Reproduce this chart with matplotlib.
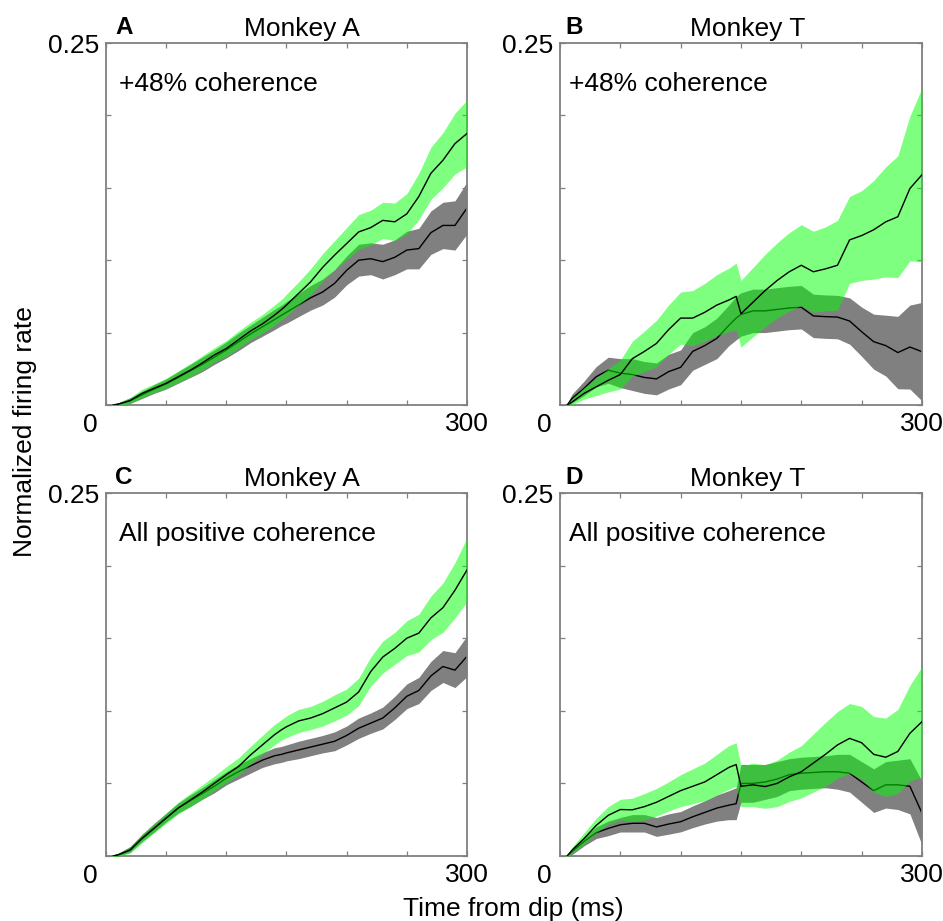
import numpy as np
import matplotlib
matplotlib.use('Agg')
import matplotlib.pyplot as plt

plt.rcParams['font.family'] = ['Liberation Sans', 'DejaVu Sans']

# time from dip (ms), shared by all four panels
t_ms = [6, 10, 20, 30, 40, 50, 60, 70, 80, 90, 100, 110, 120, 130, 140, 146,
        150, 160, 170, 180, 190, 200, 210, 220, 230, 240, 250, 260, 270, 280,
        290, 300]

# panel A - monkey A, +48% coherence
a_green_mean = [0, 0.0005, 0.003, 0.008, 0.0115, 0.015, 0.0195, 0.024, 0.029, 0.0345,
                0.039, 0.045, 0.051, 0.056, 0.062, 0.066, 0.069, 0.077, 0.085, 0.095,
                0.1035, 0.1115, 0.1195, 0.1225, 0.1275, 0.1265, 0.132, 0.144, 0.160,
                0.169, 0.1805, 0.1875]
a_green_sem = [0.0005, 0.001, 0.002, 0.003, 0.003, 0.0035, 0.004, 0.0045, 0.005, 0.005,
               0.0055, 0.006, 0.006, 0.0065, 0.007, 0.007, 0.0075, 0.008, 0.009, 0.0095,
               0.010, 0.011, 0.012, 0.012, 0.0125, 0.013, 0.014, 0.016, 0.018, 0.019,
               0.021, 0.023]
a_gray_mean = [0, 0.0005, 0.003, 0.007, 0.011, 0.0145, 0.019, 0.0235, 0.028, 0.033,
               0.038, 0.0435, 0.049, 0.054, 0.059, 0.062, 0.064, 0.069, 0.074, 0.078,
               0.084, 0.093, 0.100, 0.101, 0.099, 0.102, 0.107, 0.108, 0.119, 0.124,
               0.124, 0.136]
a_gray_sem = [0.0005, 0.001, 0.002, 0.0025, 0.003, 0.0035, 0.004, 0.0045, 0.005, 0.005,
              0.0055, 0.006, 0.006, 0.0065, 0.007, 0.007, 0.0075, 0.008, 0.0085, 0.009,
              0.0095, 0.010, 0.011, 0.011, 0.012, 0.012, 0.013, 0.014, 0.015, 0.016,
              0.017, 0.018]

# panel B - monkey T, +48% coherence
b_green_mean = [0, 0.002, 0.008, 0.0125, 0.017, 0.021, 0.032, 0.037, 0.0425, 0.052,
                0.060, 0.060, 0.064, 0.069, 0.0725, 0.075, 0.063, 0.071, 0.079, 0.086,
                0.092, 0.0965, 0.092, 0.094, 0.0965, 0.114, 0.117, 0.121, 0.1265, 0.130,
                0.1495, 0.159]
b_green_sem = [0.001, 0.002, 0.004, 0.006, 0.008, 0.010, 0.012, 0.014, 0.016, 0.017,
               0.018, 0.019, 0.020, 0.021, 0.022, 0.023, 0.023, 0.024, 0.025, 0.026,
               0.027, 0.028, 0.028, 0.029, 0.031, 0.030, 0.031, 0.034, 0.038, 0.042,
               0.050, 0.060]
b_gray_mean = [0, 0.0045, 0.0115, 0.0195, 0.024, 0.022, 0.021, 0.019, 0.018, 0.023,
               0.026, 0.037, 0.041, 0.046, 0.055, 0.060, 0.0625, 0.065, 0.065, 0.066,
               0.067, 0.0675, 0.0615, 0.061, 0.0607, 0.058, 0.0506, 0.0437, 0.041,
               0.0362, 0.040, 0.0368]
b_gray_sem = [0.001, 0.003, 0.005, 0.007, 0.009, 0.010, 0.011, 0.011, 0.011, 0.012,
              0.012, 0.013, 0.013, 0.014, 0.014, 0.015, 0.015, 0.015, 0.015, 0.015,
              0.015, 0.015, 0.015, 0.015, 0.015, 0.016, 0.017, 0.019, 0.021, 0.025,
              0.029, 0.034]

# panel C - monkey A, all positive coherence
c_green_mean = [0, 0.0007, 0.004, 0.012, 0.019, 0.026, 0.033, 0.0385, 0.044, 0.050,
                0.056, 0.0615, 0.0695, 0.0765, 0.0835, 0.087, 0.089, 0.093, 0.095, 0.098,
                0.102, 0.106, 0.113, 0.127, 0.137, 0.143, 0.150, 0.1535, 0.164, 0.171,
                0.183, 0.197]
c_green_sem = [0.0005, 0.001, 0.002, 0.003, 0.003, 0.0035, 0.004, 0.0045, 0.005, 0.005,
               0.0055, 0.006, 0.006, 0.0065, 0.007, 0.007, 0.0075, 0.008, 0.008, 0.0085,
               0.009, 0.009, 0.0095, 0.010, 0.011, 0.011, 0.012, 0.013, 0.015, 0.017,
               0.019, 0.022]
c_gray_mean = [0, 0.0008, 0.0045, 0.0125, 0.0195, 0.0265, 0.033, 0.038, 0.043, 0.048,
               0.0535, 0.058, 0.062, 0.066, 0.069, 0.070, 0.071, 0.073, 0.075, 0.077,
               0.079, 0.083, 0.088, 0.0915, 0.095, 0.102, 0.110, 0.114, 0.124, 0.1305,
               0.128, 0.1375]
c_gray_sem = [0.0005, 0.001, 0.002, 0.0025, 0.003, 0.003, 0.0035, 0.004, 0.004, 0.0045,
              0.0045, 0.005, 0.005, 0.005, 0.0055, 0.0055, 0.0055, 0.006, 0.006, 0.006,
              0.0065, 0.0065, 0.007, 0.007, 0.0075, 0.008, 0.0085, 0.009, 0.010, 0.011,
              0.012, 0.014]

# panel D - monkey T, all positive coherence
d_green_mean = [0, 0.004, 0.012, 0.021, 0.028, 0.032, 0.0318, 0.034, 0.037, 0.041,
                0.045, 0.048, 0.051, 0.056, 0.061, 0.063, 0.048, 0.049, 0.0478, 0.050,
                0.0545, 0.058, 0.064, 0.070, 0.0765, 0.081, 0.078, 0.070, 0.068, 0.072,
                0.0845, 0.0925]
d_green_sem = [0.001, 0.002, 0.004, 0.005, 0.006, 0.007, 0.008, 0.009, 0.0095, 0.010,
               0.011, 0.012, 0.013, 0.014, 0.015, 0.015, 0.014, 0.015, 0.015, 0.016,
               0.017, 0.018, 0.020, 0.022, 0.023, 0.024, 0.025, 0.026, 0.027, 0.029,
               0.033, 0.038]
d_gray_mean = [0, 0.003, 0.010, 0.016, 0.019, 0.0215, 0.0225, 0.0225, 0.020, 0.022,
               0.0236, 0.027, 0.030, 0.033, 0.035, 0.036, 0.050, 0.050, 0.051, 0.053,
               0.056, 0.057, 0.0575, 0.058, 0.058, 0.057, 0.051, 0.045, 0.049, 0.049,
               0.048, 0.0296]
d_gray_sem = [0.001, 0.002, 0.003, 0.004, 0.005, 0.005, 0.006, 0.006, 0.0065, 0.007,
              0.007, 0.0075, 0.008, 0.009, 0.010, 0.011, 0.013, 0.013, 0.012, 0.012,
              0.011, 0.011, 0.011, 0.011, 0.012, 0.013, 0.014, 0.015, 0.016, 0.017,
              0.019, 0.022]

FS = 19
FRAME = '#808080'


def draw_panel(ax, gray_mean, gray_sem, green_mean, green_sem,
               letter, title, title_x, note, note_x):
    t = np.array(t_ms)
    gm, gs = np.array(gray_mean), np.array(gray_sem)
    cm, cs = np.array(green_mean), np.array(green_sem)

    # gray band first, green band on top with alpha (overlap turns dark green)
    ax.fill_between(t, gm - gs, gm + gs, color='#808080', lw=0, zorder=1)
    ax.plot(t, gm, color='black', lw=1.0, zorder=2)
    ax.fill_between(t, cm - cs, cm + cs, color='#00ff00', alpha=0.5, lw=0, zorder=3)
    ax.plot(t, cm, color='black', lw=1.0, zorder=4)

    ax.set_xlim(0, 300)
    ax.set_ylim(0, 0.25)

    ax.set_xticks([0, 50, 100, 150, 200, 250, 300])
    ax.set_xticklabels(['', '', '', '', '', '', '300'])
    ax.set_yticks([0, 0.05, 0.1, 0.15, 0.2, 0.25])
    ax.set_yticklabels(['', '', '', '', '', '0.25'])
    ax.tick_params(direction='in', top=True, right=True, length=3.5,
                   width=0.9, color=FRAME, labelsize=FS, pad=5)
    for s in ax.spines.values():
        s.set_color(FRAME)
        s.set_linewidth(1.3)

    # single "0" at the corner
    ax.text(-0.022, -0.022, '0', transform=ax.transAxes, ha='right', va='top',
            fontsize=FS)

    ax.text(title_x, 1.019, title, transform=ax.transAxes, ha='center',
            va='baseline', fontsize=FS)
    ax.text(note_x - 0.011, 1.026, letter, transform=ax.transAxes, ha='left',
            va='baseline', fontsize=17.5, fontweight='bold')
    ax.text(note_x, 0.868, note, transform=ax.transAxes, ha='left',
            va='baseline', fontsize=FS)


fig = plt.figure(figsize=(9.43, 9.21), dpi=100)

ax_a = fig.add_axes([0.1124, 0.5603, 0.3828, 0.3930])
ax_b = fig.add_axes([0.5938, 0.5603, 0.3839, 0.3930])
ax_c = fig.add_axes([0.1124, 0.0706, 0.3828, 0.3941])
ax_d = fig.add_axes([0.5938, 0.0706, 0.3839, 0.3941])

draw_panel(ax_a, a_gray_mean, a_gray_sem, a_green_mean, a_green_sem,
           'A', 'Monkey A', 0.544, '+48% coherence', 0.036)
draw_panel(ax_b, b_gray_mean, b_gray_sem, b_green_mean, b_green_sem,
           'B', 'Monkey T', 0.519, '+48% coherence', 0.025)
draw_panel(ax_c, c_gray_mean, c_gray_sem, c_green_mean, c_green_sem,
           'C', 'Monkey A', 0.544, 'All positive coherence', 0.036)
draw_panel(ax_d, d_gray_mean, d_gray_sem, d_green_mean, d_green_sem,
           'D', 'Monkey T', 0.519, 'All positive coherence', 0.025)

# shared axis labels
fig.text(0.0265, 0.531, 'Normalized firing rate', rotation=90,
         ha='center', va='center', fontsize=FS)
fig.text(0.544, 0.0125, 'Time from dip (ms)', ha='center', va='center',
         fontsize=FS)

fig.savefig('out.png', dpi=100)
